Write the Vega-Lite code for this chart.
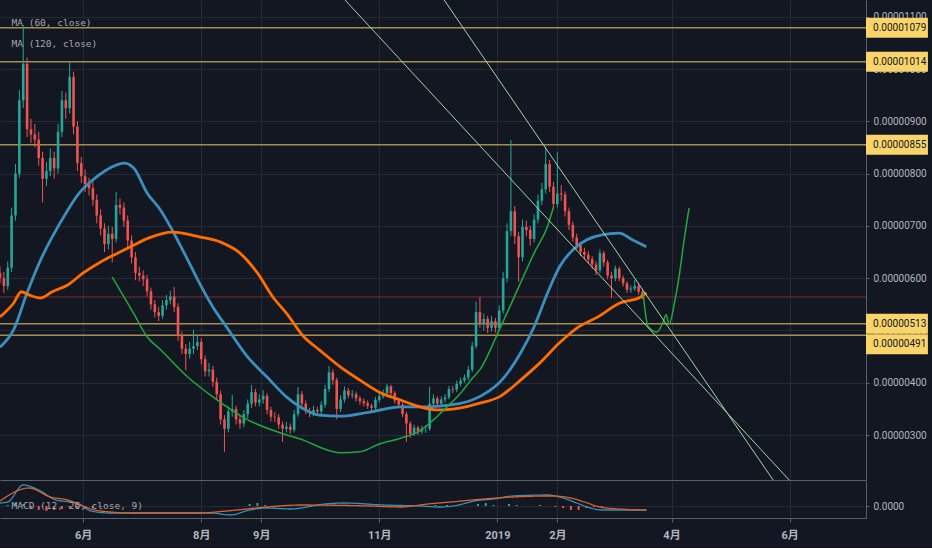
{
"$schema": "https://vega.github.io/schema/vega-lite/v6.json",
"background": "#131722",
"padding": {"left": 0, "top": 0, "right": 4, "bottom": 8},
"spacing": 1,
"bounds": "flush",
"config": {
  "view": {"stroke": null},
  "scale": {"continuousPadding": 0},
  "axis": {"labelFont": "Roboto, 'Noto Sans CJK SC', sans-serif", "labelColor": "#b2b5be", "domainColor": "#5d606b", "tickColor": "#5d606b", "gridColor": "#252a36", "gridWidth": 1}
},
"datasets": {
  "levels": [
    {"v": 1079, "t": "0.00001079"},
    {"v": 1014, "t": "0.00001014"},
    {"v": 855, "t": "0.00000855"},
    {"v": 513, "t": "0.00000513"},
    {"v": 491, "t": "0.00000491"}
  ],
  "trend": [
    {"d": "2018-10-14T07:00:00Z", "v": 1132, "s": "a"},
    {"d": "2019-05-31T19:00:00Z", "v": 214, "s": "a"},
    {"d": "2018-12-04T12:00:00Z", "v": 1132, "s": "b"},
    {"d": "2019-05-23T12:00:00Z", "v": 214, "s": "b"}
  ],
  "curve": [
    {"d": "2018-06-16", "v": 602, "s": "g1"},
    {"d": "2018-06-27", "v": 533, "s": "g1"},
    {"d": "2018-07-04", "v": 488, "s": "g1"},
    {"d": "2018-07-11", "v": 463, "s": "g1"},
    {"d": "2018-07-25", "v": 411, "s": "g1"},
    {"d": "2018-08-07", "v": 373, "s": "g1"},
    {"d": "2018-08-25", "v": 329, "s": "g1"},
    {"d": "2018-09-11", "v": 304, "s": "g1"},
    {"d": "2018-09-25", "v": 287, "s": "g1"},
    {"d": "2018-10-01", "v": 277, "s": "g1"},
    {"d": "2018-10-12", "v": 266, "s": "g1"},
    {"d": "2018-10-22", "v": 268, "s": "g1"},
    {"d": "2018-11-01", "v": 283, "s": "g1"},
    {"d": "2018-11-12", "v": 294, "s": "g1"},
    {"d": "2018-11-22", "v": 308, "s": "g1"},
    {"d": "2018-11-29", "v": 329, "s": "g1"},
    {"d": "2018-12-06", "v": 354, "s": "g1"},
    {"d": "2018-12-13", "v": 380, "s": "g1"},
    {"d": "2018-12-19", "v": 408, "s": "g1"},
    {"d": "2018-12-23", "v": 425, "s": "g1"},
    {"d": "2019-01-02", "v": 501, "s": "g1"},
    {"d": "2019-01-13", "v": 591, "s": "g1"},
    {"d": "2019-01-20", "v": 648, "s": "g1"},
    {"d": "2019-01-27", "v": 700, "s": "g1"},
    {"d": "2019-01-30", "v": 736, "s": "g1"},
    {"d": "2019-03-17T07:00:00Z", "v": 572, "s": "g2"},
    {"d": "2019-03-19T22:00:00Z", "v": 507, "s": "g2"},
    {"d": "2019-03-24T12:00:00Z", "v": 497, "s": "g2"},
    {"d": "2019-03-27T14:00:00Z", "v": 516, "s": "g2"},
    {"d": "2019-03-29T05:00:00Z", "v": 530, "s": "g2"},
    {"d": "2019-03-30T17:00:00Z", "v": 512, "s": "g2"},
    {"d": "2019-04-02T19:00:00Z", "v": 558, "s": "g2"},
    {"d": "2019-04-05T10:00:00Z", "v": 616, "s": "g2"},
    {"d": "2019-04-07T12:00:00Z", "v": 673, "s": "g2"},
    {"d": "2019-04-10T02:00:00Z", "v": 734, "s": "g2"}
  ],
  "ma": [
    {"d": "2018-04-19", "v": 468, "s": "MA (60, close)"},
    {"d": "2018-04-26", "v": 501, "s": "MA (60, close)"},
    {"d": "2018-05-03", "v": 572, "s": "MA (60, close)"},
    {"d": "2018-05-10", "v": 635, "s": "MA (60, close)"},
    {"d": "2018-05-16", "v": 679, "s": "MA (60, close)"},
    {"d": "2018-05-24", "v": 730, "s": "MA (60, close)"},
    {"d": "2018-05-30", "v": 763, "s": "MA (60, close)"},
    {"d": "2018-06-06", "v": 788, "s": "MA (60, close)"},
    {"d": "2018-06-13", "v": 807, "s": "MA (60, close)"},
    {"d": "2018-06-22", "v": 820, "s": "MA (60, close)"},
    {"d": "2018-06-27", "v": 811, "s": "MA (60, close)"},
    {"d": "2018-07-04", "v": 763, "s": "MA (60, close)"},
    {"d": "2018-07-11", "v": 730, "s": "MA (60, close)"},
    {"d": "2018-07-17", "v": 692, "s": "MA (60, close)"},
    {"d": "2018-07-25", "v": 635, "s": "MA (60, close)"},
    {"d": "2018-07-31", "v": 591, "s": "MA (60, close)"},
    {"d": "2018-08-07", "v": 545, "s": "MA (60, close)"},
    {"d": "2018-08-14", "v": 507, "s": "MA (60, close)"},
    {"d": "2018-08-25", "v": 449, "s": "MA (60, close)"},
    {"d": "2018-09-04", "v": 411, "s": "MA (60, close)"},
    {"d": "2018-09-14", "v": 373, "s": "MA (60, close)"},
    {"d": "2018-09-21", "v": 354, "s": "MA (60, close)"},
    {"d": "2018-10-01", "v": 338, "s": "MA (60, close)"},
    {"d": "2018-10-12", "v": 336, "s": "MA (60, close)"},
    {"d": "2018-10-27", "v": 344, "s": "MA (60, close)"},
    {"d": "2018-11-12", "v": 354, "s": "MA (60, close)"},
    {"d": "2018-11-26", "v": 354, "s": "MA (60, close)"},
    {"d": "2018-12-09", "v": 358, "s": "MA (60, close)"},
    {"d": "2018-12-19", "v": 367, "s": "MA (60, close)"},
    {"d": "2018-12-28", "v": 385, "s": "MA (60, close)"},
    {"d": "2019-01-02", "v": 400, "s": "MA (60, close)"},
    {"d": "2019-01-13", "v": 457, "s": "MA (60, close)"},
    {"d": "2019-01-20", "v": 507, "s": "MA (60, close)"},
    {"d": "2019-01-27", "v": 572, "s": "MA (60, close)"},
    {"d": "2019-02-02", "v": 621, "s": "MA (60, close)"},
    {"d": "2019-02-09", "v": 654, "s": "MA (60, close)"},
    {"d": "2019-02-16", "v": 673, "s": "MA (60, close)"},
    {"d": "2019-02-24", "v": 683, "s": "MA (60, close)"},
    {"d": "2019-03-05", "v": 686, "s": "MA (60, close)"},
    {"d": "2019-03-12", "v": 673, "s": "MA (60, close)"},
    {"d": "2019-03-19", "v": 660, "s": "MA (60, close)"},
    {"d": "2018-04-19", "v": 526, "s": "MA (120, close)"},
    {"d": "2018-04-26", "v": 552, "s": "MA (120, close)"},
    {"d": "2018-04-30", "v": 574, "s": "MA (120, close)"},
    {"d": "2018-05-04", "v": 568, "s": "MA (120, close)"},
    {"d": "2018-05-10", "v": 562, "s": "MA (120, close)"},
    {"d": "2018-05-16", "v": 574, "s": "MA (120, close)"},
    {"d": "2018-05-24", "v": 587, "s": "MA (120, close)"},
    {"d": "2018-06-01", "v": 610, "s": "MA (120, close)"},
    {"d": "2018-06-10", "v": 631, "s": "MA (120, close)"},
    {"d": "2018-06-19", "v": 648, "s": "MA (120, close)"},
    {"d": "2018-06-27", "v": 663, "s": "MA (120, close)"},
    {"d": "2018-07-05", "v": 677, "s": "MA (120, close)"},
    {"d": "2018-07-17", "v": 688, "s": "MA (120, close)"},
    {"d": "2018-07-31", "v": 679, "s": "MA (120, close)"},
    {"d": "2018-08-11", "v": 669, "s": "MA (120, close)"},
    {"d": "2018-08-21", "v": 648, "s": "MA (120, close)"},
    {"d": "2018-08-30", "v": 610, "s": "MA (120, close)"},
    {"d": "2018-09-07", "v": 564, "s": "MA (120, close)"},
    {"d": "2018-09-14", "v": 533, "s": "MA (120, close)"},
    {"d": "2018-09-23", "v": 488, "s": "MA (120, close)"},
    {"d": "2018-10-01", "v": 463, "s": "MA (120, close)"},
    {"d": "2018-10-12", "v": 430, "s": "MA (120, close)"},
    {"d": "2018-10-22", "v": 405, "s": "MA (120, close)"},
    {"d": "2018-11-01", "v": 382, "s": "MA (120, close)"},
    {"d": "2018-11-12", "v": 367, "s": "MA (120, close)"},
    {"d": "2018-11-22", "v": 354, "s": "MA (120, close)"},
    {"d": "2018-12-02", "v": 348, "s": "MA (120, close)"},
    {"d": "2018-12-13", "v": 352, "s": "MA (120, close)"},
    {"d": "2018-12-23", "v": 361, "s": "MA (120, close)"},
    {"d": "2019-01-02", "v": 373, "s": "MA (120, close)"},
    {"d": "2019-01-13", "v": 405, "s": "MA (120, close)"},
    {"d": "2019-01-23", "v": 438, "s": "MA (120, close)"},
    {"d": "2019-02-02", "v": 476, "s": "MA (120, close)"},
    {"d": "2019-02-12", "v": 507, "s": "MA (120, close)"},
    {"d": "2019-02-22", "v": 526, "s": "MA (120, close)"},
    {"d": "2019-03-05", "v": 552, "s": "MA (120, close)"},
    {"d": "2019-03-16", "v": 564, "s": "MA (120, close)"},
    {"d": "2019-03-19", "v": 572, "s": "MA (120, close)"}
  ],
  "macd": [
    {"d": "2018-04-19", "v": 3, "s": "macd"},
    {"d": "2018-04-23", "v": 4, "s": "macd"},
    {"d": "2018-05-01", "v": 21, "s": "macd"},
    {"d": "2018-05-09", "v": 16, "s": "macd"},
    {"d": "2018-05-18", "v": 6, "s": "macd"},
    {"d": "2018-05-29", "v": 3, "s": "macd"},
    {"d": "2018-06-05", "v": -5, "s": "macd"},
    {"d": "2018-06-15", "v": -7, "s": "macd"},
    {"d": "2018-06-27", "v": -7, "s": "macd"},
    {"d": "2018-07-17", "v": -7, "s": "macd"},
    {"d": "2018-08-06", "v": -7, "s": "macd"},
    {"d": "2018-08-16", "v": -9, "s": "macd"},
    {"d": "2018-08-26", "v": -4, "s": "macd"},
    {"d": "2018-09-04", "v": -2, "s": "macd"},
    {"d": "2018-09-16", "v": -3, "s": "macd"},
    {"d": "2018-10-04", "v": 2, "s": "macd"},
    {"d": "2018-10-14", "v": 3, "s": "macd"},
    {"d": "2018-11-03", "v": 1, "s": "macd"},
    {"d": "2018-11-22", "v": 0, "s": "macd"},
    {"d": "2018-12-02", "v": -1, "s": "macd"},
    {"d": "2018-12-12", "v": 1, "s": "macd"},
    {"d": "2018-12-20", "v": 5, "s": "macd"},
    {"d": "2018-12-30", "v": 7, "s": "macd"},
    {"d": "2019-01-09", "v": 10, "s": "macd"},
    {"d": "2019-01-27", "v": 11, "s": "macd"},
    {"d": "2019-02-04", "v": 8, "s": "macd"},
    {"d": "2019-02-11", "v": 3, "s": "macd"},
    {"d": "2019-02-18", "v": -2, "s": "macd"},
    {"d": "2019-02-24", "v": -4, "s": "macd"},
    {"d": "2019-03-19", "v": -4, "s": "macd"},
    {"d": "2018-04-19", "v": 5, "s": "signal"},
    {"d": "2018-05-04", "v": 18, "s": "signal"},
    {"d": "2018-05-15", "v": 9, "s": "signal"},
    {"d": "2018-05-24", "v": 6, "s": "signal"},
    {"d": "2018-06-02", "v": -1, "s": "signal"},
    {"d": "2018-06-10", "v": -5, "s": "signal"},
    {"d": "2018-06-27", "v": -7, "s": "signal"},
    {"d": "2018-07-31", "v": -7, "s": "signal"},
    {"d": "2018-08-14", "v": -5, "s": "signal"},
    {"d": "2018-09-04", "v": -1, "s": "signal"},
    {"d": "2018-09-21", "v": 1, "s": "signal"},
    {"d": "2018-10-27", "v": 0, "s": "signal"},
    {"d": "2018-11-12", "v": -1, "s": "signal"},
    {"d": "2018-11-26", "v": 2, "s": "signal"},
    {"d": "2018-12-08", "v": 4, "s": "signal"},
    {"d": "2018-12-25", "v": 7, "s": "signal"},
    {"d": "2019-01-09", "v": 9, "s": "signal"},
    {"d": "2019-01-29", "v": 10, "s": "signal"},
    {"d": "2019-02-08", "v": 8, "s": "signal"},
    {"d": "2019-02-15", "v": 4, "s": "signal"},
    {"d": "2019-02-23", "v": -1, "s": "signal"},
    {"d": "2019-03-05", "v": -3, "s": "signal"},
    {"d": "2019-03-19", "v": -4, "s": "signal"}
  ],
  "hist": [
    {"d": "2018-04-23", "h": 1}, {"d": "2018-04-27", "h": 3}, {"d": "2018-05-01", "h": 2},
    {"d": "2018-05-05", "h": -2}, {"d": "2018-05-09", "h": -4}, {"d": "2018-05-13", "h": -5},
    {"d": "2018-05-17", "h": -4}, {"d": "2018-05-21", "h": -3}, {"d": "2018-05-25", "h": -2},
    {"d": "2018-05-29", "h": -2}, {"d": "2018-06-02", "h": -3}, {"d": "2018-06-06", "h": -2},
    {"d": "2018-06-10", "h": -1}, {"d": "2018-08-26", "h": 2}, {"d": "2018-08-30", "h": 3},
    {"d": "2018-09-03", "h": 1}, {"d": "2018-09-27", "h": 1}, {"d": "2018-10-05", "h": 1},
    {"d": "2018-11-12", "h": -1}, {"d": "2018-11-30", "h": 1}, {"d": "2018-12-06", "h": 1},
    {"d": "2018-12-22", "h": 2}, {"d": "2018-12-26", "h": 3}, {"d": "2018-12-30", "h": 1},
    {"d": "2019-01-07", "h": 2}, {"d": "2019-01-11", "h": 1}, {"d": "2019-01-23", "h": 1},
    {"d": "2019-01-31", "h": -1}, {"d": "2019-02-04", "h": -2}, {"d": "2019-02-08", "h": -4},
    {"d": "2019-02-12", "h": -4}, {"d": "2019-02-16", "h": -2}, {"d": "2019-02-20", "h": -1},
    {"d": "2019-02-24", "h": -1}
  ],
  "candles": [
    {"d":"2018-04-19","o":610,"h":622,"l":590,"c":600},
    {"d":"2018-04-21","o":600,"h":612,"l":572,"c":585},
    {"d":"2018-04-23","o":585,"h":632,"l":578,"c":620},
    {"d":"2018-04-25","o":620,"h":735,"l":612,"c":720},
    {"d":"2018-04-27","o":720,"h":818,"l":710,"c":800},
    {"d":"2018-04-29","o":800,"h":960,"l":792,"c":940},
    {"d":"2018-05-01","o":940,"h":1084,"l":925,"c":1010},
    {"d":"2018-05-03","o":1010,"h":1022,"l":870,"c":885},
    {"d":"2018-05-05","o":885,"h":905,"l":858,"c":875},
    {"d":"2018-05-07","o":875,"h":895,"l":850,"c":865},
    {"d":"2018-05-09","o":865,"h":880,"l":815,"c":830},
    {"d":"2018-05-11","o":830,"h":842,"l":745,"c":790},
    {"d":"2018-05-13","o":790,"h":822,"l":776,"c":805},
    {"d":"2018-05-15","o":805,"h":848,"l":795,"c":830},
    {"d":"2018-05-17","o":830,"h":842,"l":790,"c":810},
    {"d":"2018-05-19","o":810,"h":895,"l":800,"c":880},
    {"d":"2018-05-21","o":880,"h":958,"l":870,"c":940},
    {"d":"2018-05-23","o":940,"h":955,"l":905,"c":925},
    {"d":"2018-05-25","o":925,"h":1013,"l":915,"c":985},
    {"d":"2018-05-27","o":985,"h":995,"l":875,"c":890},
    {"d":"2018-05-29","o":890,"h":900,"l":805,"c":820},
    {"d":"2018-05-31","o":820,"h":832,"l":782,"c":795},
    {"d":"2018-06-02","o":795,"h":808,"l":765,"c":780},
    {"d":"2018-06-04","o":780,"h":792,"l":758,"c":772},
    {"d":"2018-06-06","o":772,"h":785,"l":738,"c":750},
    {"d":"2018-06-08","o":750,"h":760,"l":705,"c":720},
    {"d":"2018-06-10","o":720,"h":732,"l":682,"c":695},
    {"d":"2018-06-12","o":695,"h":705,"l":650,"c":665},
    {"d":"2018-06-14","o":665,"h":700,"l":655,"c":685},
    {"d":"2018-06-16","o":685,"h":698,"l":630,"c":675},
    {"d":"2018-06-18","o":675,"h":765,"l":668,"c":740},
    {"d":"2018-06-20","o":740,"h":752,"l":722,"c":735},
    {"d":"2018-06-22","o":735,"h":745,"l":698,"c":710},
    {"d":"2018-06-24","o":710,"h":720,"l":660,"c":672},
    {"d":"2018-06-26","o":672,"h":682,"l":628,"c":640},
    {"d":"2018-06-28","o":640,"h":650,"l":596,"c":610},
    {"d":"2018-06-30","o":610,"h":622,"l":594,"c":605},
    {"d":"2018-07-02","o":605,"h":615,"l":585,"c":598},
    {"d":"2018-07-04","o":598,"h":606,"l":565,"c":575},
    {"d":"2018-07-06","o":575,"h":582,"l":540,"c":550},
    {"d":"2018-07-08","o":550,"h":558,"l":525,"c":535},
    {"d":"2018-07-10","o":535,"h":545,"l":518,"c":528},
    {"d":"2018-07-12","o":528,"h":558,"l":522,"c":548},
    {"d":"2018-07-14","o":548,"h":568,"l":540,"c":558},
    {"d":"2018-07-16","o":558,"h":576,"l":550,"c":565},
    {"d":"2018-07-18","o":565,"h":583,"l":535,"c":545},
    {"d":"2018-07-20","o":545,"h":552,"l":480,"c":490},
    {"d":"2018-07-22","o":490,"h":498,"l":455,"c":465},
    {"d":"2018-07-24","o":465,"h":474,"l":424,"c":455},
    {"d":"2018-07-26","o":455,"h":478,"l":446,"c":465},
    {"d":"2018-07-28","o":465,"h":501,"l":455,"c":470},
    {"d":"2018-07-30","o":470,"h":490,"l":462,"c":478},
    {"d":"2018-08-01","o":478,"h":485,"l":435,"c":445},
    {"d":"2018-08-03","o":445,"h":452,"l":412,"c":422},
    {"d":"2018-08-05","o":422,"h":438,"l":412,"c":425},
    {"d":"2018-08-07","o":425,"h":432,"l":392,"c":402},
    {"d":"2018-08-09","o":402,"h":410,"l":368,"c":378},
    {"d":"2018-08-11","o":378,"h":385,"l":320,"c":330},
    {"d":"2018-08-13","o":330,"h":338,"l":268,"c":312},
    {"d":"2018-08-15","o":312,"h":355,"l":305,"c":345},
    {"d":"2018-08-17","o":345,"h":377,"l":335,"c":350},
    {"d":"2018-08-19","o":350,"h":356,"l":320,"c":330},
    {"d":"2018-08-21","o":330,"h":338,"l":312,"c":322},
    {"d":"2018-08-23","o":322,"h":348,"l":315,"c":340},
    {"d":"2018-08-25","o":340,"h":368,"l":332,"c":360},
    {"d":"2018-08-27","o":360,"h":396,"l":352,"c":382},
    {"d":"2018-08-29","o":382,"h":388,"l":355,"c":362},
    {"d":"2018-08-31","o":362,"h":378,"l":355,"c":368},
    {"d":"2018-09-02","o":368,"h":386,"l":360,"c":375},
    {"d":"2018-09-04","o":375,"h":380,"l":340,"c":348},
    {"d":"2018-09-06","o":348,"h":354,"l":326,"c":335},
    {"d":"2018-09-08","o":335,"h":344,"l":325,"c":334},
    {"d":"2018-09-10","o":334,"h":340,"l":312,"c":320},
    {"d":"2018-09-12","o":320,"h":326,"l":287,"c":312},
    {"d":"2018-09-14","o":312,"h":325,"l":305,"c":316},
    {"d":"2018-09-16","o":316,"h":322,"l":302,"c":310},
    {"d":"2018-09-18","o":310,"h":348,"l":305,"c":340},
    {"d":"2018-09-20","o":340,"h":392,"l":335,"c":378},
    {"d":"2018-09-22","o":378,"h":384,"l":352,"c":360},
    {"d":"2018-09-24","o":360,"h":366,"l":340,"c":346},
    {"d":"2018-09-26","o":346,"h":352,"l":334,"c":342},
    {"d":"2018-09-28","o":342,"h":356,"l":336,"c":348},
    {"d":"2018-09-30","o":348,"h":354,"l":338,"c":345},
    {"d":"2018-10-02","o":345,"h":365,"l":340,"c":358},
    {"d":"2018-10-04","o":358,"h":396,"l":352,"c":388},
    {"d":"2018-10-06","o":388,"h":432,"l":382,"c":420},
    {"d":"2018-10-08","o":420,"h":426,"l":396,"c":405},
    {"d":"2018-10-10","o":405,"h":410,"l":330,"c":350},
    {"d":"2018-10-12","o":350,"h":376,"l":344,"c":368},
    {"d":"2018-10-14","o":368,"h":393,"l":362,"c":385},
    {"d":"2018-10-16","o":385,"h":390,"l":370,"c":376},
    {"d":"2018-10-18","o":376,"h":386,"l":370,"c":378},
    {"d":"2018-10-20","o":378,"h":383,"l":364,"c":370},
    {"d":"2018-10-22","o":370,"h":375,"l":358,"c":365},
    {"d":"2018-10-24","o":365,"h":370,"l":355,"c":361},
    {"d":"2018-10-26","o":361,"h":366,"l":350,"c":356},
    {"d":"2018-10-28","o":356,"h":360,"l":346,"c":352},
    {"d":"2018-10-30","o":352,"h":373,"l":348,"c":367},
    {"d":"2018-11-01","o":367,"h":380,"l":362,"c":374},
    {"d":"2018-11-03","o":374,"h":387,"l":370,"c":380},
    {"d":"2018-11-05","o":380,"h":398,"l":376,"c":393},
    {"d":"2018-11-07","o":393,"h":396,"l":374,"c":380},
    {"d":"2018-11-09","o":380,"h":384,"l":360,"c":366},
    {"d":"2018-11-11","o":366,"h":370,"l":352,"c":358},
    {"d":"2018-11-13","o":358,"h":362,"l":334,"c":340},
    {"d":"2018-11-15","o":340,"h":345,"l":287,"c":322},
    {"d":"2018-11-17","o":322,"h":326,"l":295,"c":302},
    {"d":"2018-11-19","o":302,"h":320,"l":298,"c":314},
    {"d":"2018-11-21","o":314,"h":318,"l":300,"c":307},
    {"d":"2018-11-23","o":307,"h":318,"l":302,"c":312},
    {"d":"2018-11-25","o":312,"h":319,"l":304,"c":312},
    {"d":"2018-11-27","o":312,"h":392,"l":308,"c":360},
    {"d":"2018-11-29","o":360,"h":378,"l":354,"c":370},
    {"d":"2018-12-01","o":370,"h":374,"l":354,"c":360},
    {"d":"2018-12-03","o":360,"h":374,"l":355,"c":368},
    {"d":"2018-12-05","o":368,"h":378,"l":362,"c":372},
    {"d":"2018-12-07","o":372,"h":394,"l":368,"c":388},
    {"d":"2018-12-09","o":388,"h":394,"l":380,"c":387},
    {"d":"2018-12-11","o":387,"h":404,"l":382,"c":398},
    {"d":"2018-12-13","o":398,"h":410,"l":393,"c":404},
    {"d":"2018-12-15","o":404,"h":416,"l":400,"c":410},
    {"d":"2018-12-17","o":410,"h":432,"l":405,"c":425},
    {"d":"2018-12-19","o":425,"h":478,"l":420,"c":470},
    {"d":"2018-12-21","o":470,"h":555,"l":465,"c":535},
    {"d":"2018-12-23","o":535,"h":564,"l":505,"c":512},
    {"d":"2018-12-25","o":512,"h":532,"l":500,"c":522},
    {"d":"2018-12-27","o":522,"h":528,"l":495,"c":505},
    {"d":"2018-12-29","o":505,"h":528,"l":498,"c":518},
    {"d":"2018-12-31","o":518,"h":524,"l":496,"c":505},
    {"d":"2019-01-02","o":505,"h":548,"l":500,"c":538},
    {"d":"2019-01-04","o":538,"h":612,"l":532,"c":600},
    {"d":"2019-01-06","o":600,"h":705,"l":592,"c":690},
    {"d":"2019-01-08","o":690,"h":864,"l":680,"c":728},
    {"d":"2019-01-10","o":728,"h":738,"l":665,"c":680},
    {"d":"2019-01-12","o":680,"h":688,"l":593,"c":640},
    {"d":"2019-01-14","o":640,"h":712,"l":632,"c":698},
    {"d":"2019-01-16","o":698,"h":710,"l":680,"c":692},
    {"d":"2019-01-18","o":692,"h":700,"l":662,"c":675},
    {"d":"2019-01-20","o":675,"h":722,"l":668,"c":712},
    {"d":"2019-01-22","o":712,"h":760,"l":705,"c":748},
    {"d":"2019-01-24","o":748,"h":782,"l":740,"c":770},
    {"d":"2019-01-26","o":770,"h":851,"l":762,"c":818},
    {"d":"2019-01-28","o":818,"h":826,"l":765,"c":775},
    {"d":"2019-01-30","o":775,"h":784,"l":732,"c":742},
    {"d":"2019-02-01","o":742,"h":841,"l":735,"c":762},
    {"d":"2019-02-03","o":762,"h":778,"l":748,"c":760},
    {"d":"2019-02-05","o":760,"h":766,"l":718,"c":728},
    {"d":"2019-02-07","o":728,"h":735,"l":692,"c":702},
    {"d":"2019-02-09","o":702,"h":708,"l":670,"c":678},
    {"d":"2019-02-11","o":678,"h":685,"l":655,"c":663},
    {"d":"2019-02-13","o":663,"h":670,"l":642,"c":650},
    {"d":"2019-02-15","o":650,"h":658,"l":636,"c":645},
    {"d":"2019-02-17","o":645,"h":652,"l":628,"c":636},
    {"d":"2019-02-19","o":636,"h":642,"l":618,"c":626},
    {"d":"2019-02-21","o":626,"h":632,"l":606,"c":615},
    {"d":"2019-02-23","o":615,"h":655,"l":610,"c":648},
    {"d":"2019-02-25","o":648,"h":652,"l":622,"c":630},
    {"d":"2019-02-27","o":630,"h":635,"l":598,"c":605},
    {"d":"2019-03-01","o":605,"h":612,"l":562,"c":600},
    {"d":"2019-03-03","o":600,"h":624,"l":594,"c":618},
    {"d":"2019-03-05","o":618,"h":622,"l":594,"c":600},
    {"d":"2019-03-07","o":600,"h":605,"l":584,"c":590},
    {"d":"2019-03-09","o":590,"h":594,"l":572,"c":578},
    {"d":"2019-03-11","o":578,"h":586,"l":572,"c":580},
    {"d":"2019-03-13","o":580,"h":597,"l":576,"c":585},
    {"d":"2019-03-15","o":585,"h":590,"l":568,"c":574},
    {"d":"2019-03-17","o":574,"h":580,"l":560,"c":565}
  ]
},
"vconcat": [
  {
    "width": 866,
    "height": 480,
    "layer": [
      {
        "data": {"name": "levels"},
        "mark": {"type": "rule", "color": "#a48e52", "strokeWidth": 1.5, "clip": true},
        "encoding": {
          "y": {"field": "v", "type": "quantitative", "title": null,
            "scale": {"domain": [214, 1132], "zero": false, "nice": false, "padding": 0},
            "axis": {"orient": "right", "values": [300, 400, 500, 600, 700, 800, 900, 1000, 1100],
              "labelExpr": "format(datum.value / 1e8, '.8f')", "tickSize": 3, "labelPadding": 4,
              "labelFontSize": 10, "grid": true}}
        }
      },
      {
        "data": {"values": [{"v": 564}]},
        "mark": {"type": "rule", "color": "#7d2b2e", "strokeWidth": 1, "clip": true},
        "encoding": {"y": {"field": "v", "type": "quantitative", "title": null}}
      },
      {
        "data": {"name": "candles"},
        "mark": {"type": "rule", "strokeWidth": 1, "clip": true},
        "encoding": {
          "x": {"field": "d", "type": "temporal", "title": null,
            "scale": {"type": "utc", "padding": 0, "domain": [{"year": 2018, "month": 4, "date": 19, "utc": true}, {"year": 2019, "month": 7, "date": 10, "hours": 12, "utc": true}]},
            "axis": {"values": [
              {"year": 2018, "month": 6, "date": 1, "utc": true},
              {"year": 2018, "month": 8, "date": 1, "utc": true},
              {"year": 2018, "month": 9, "date": 1, "utc": true},
              {"year": 2018, "month": 11, "date": 1, "utc": true},
              {"year": 2019, "month": 1, "date": 1, "utc": true},
              {"year": 2019, "month": 2, "date": 1, "utc": true},
              {"year": 2019, "month": 4, "date": 1, "utc": true},
              {"year": 2019, "month": 6, "date": 1, "utc": true}],
              "labels": false, "ticks": false, "grid": true}},
          "y": {"field": "l", "type": "quantitative", "title": null},
          "y2": {"field": "h"},
          "color": {"condition": {"test": "datum.c >= datum.o", "value": "#26a69a"}, "value": "#ef5350"}
        }
      },
      {
        "data": {"name": "candles"},
        "mark": {"type": "bar", "width": 2.6, "clip": true},
        "encoding": {
          "x": {"field": "d", "type": "temporal", "title": null},
          "y": {"field": "o", "type": "quantitative", "title": null},
          "y2": {"field": "c"},
          "color": {"condition": {"test": "datum.c >= datum.o", "value": "#26a69a"}, "value": "#ef5350"}
        }
      },
      {
        "data": {"name": "ma"},
        "mark": {"type": "line", "strokeWidth": 2.8, "interpolate": "monotone", "clip": true, "strokeJoin": "round"},
        "encoding": {
          "x": {"field": "d", "type": "temporal", "title": null},
          "y": {"field": "v", "type": "quantitative", "title": null},
          "color": {"field": "s", "type": "nominal",
            "scale": {"domain": ["MA (60, close)", "MA (120, close)"], "range": ["#3b8fbd", "#ff6d00"]},
            "legend": {"orient": "none", "legendX": 4, "legendY": 18, "title": null,
              "labelFont": "DejaVu Sans Mono", "labelFontSize": 9.5, "labelColor": "#a3a6af",
              "symbolSize": 0, "symbolStrokeWidth": 0, "symbolOpacity": 0,
              "padding": 0, "labelOffset": -2, "rowPadding": 10}}
        }
      },
      {
        "data": {"name": "curve"},
        "mark": {"type": "line", "color": "#1fa83d", "strokeWidth": 1.5, "interpolate": "monotone", "clip": true},
        "encoding": {
          "x": {"field": "d", "type": "temporal", "title": null},
          "y": {"field": "v", "type": "quantitative", "title": null},
          "detail": {"field": "s"}
        }
      },
      {
        "data": {"name": "trend"},
        "mark": {"type": "line", "color": "#a5d6a7", "strokeWidth": 1, "clip": true},
        "encoding": {
          "x": {"field": "d", "type": "temporal", "title": null},
          "y": {"field": "v", "type": "quantitative", "title": null},
          "detail": {"field": "s"}
        }
      },
      {
        "data": {"name": "levels"},
        "transform": [{"filter": "datum.v != 491"}],
        "mark": {"type": "bar", "color": "#f9d46a", "height": 20, "orient": "horizontal"},
        "encoding": {
          "x": {"datum": {"year": 2019, "month": 7, "date": 10, "hours": 12, "utc": true}, "type": "temporal"},
          "x2": {"datum": {"year": 2019, "month": 8, "date": 11, "hours": 12, "utc": true}},
          "y": {"field": "v", "type": "quantitative", "title": null}
        }
      },
      {
        "data": {"name": "levels"},
        "transform": [{"filter": "datum.v == 491"}],
        "mark": {"type": "bar", "color": "#f9d46a", "height": 20, "orient": "horizontal", "yOffset": 9},
        "encoding": {
          "x": {"datum": {"year": 2019, "month": 7, "date": 10, "hours": 12, "utc": true}, "type": "temporal"},
          "x2": {"datum": {"year": 2019, "month": 8, "date": 11, "hours": 12, "utc": true}},
          "y": {"field": "v", "type": "quantitative", "title": null}
        }
      },
      {
        "data": {"name": "levels"},
        "transform": [{"filter": "datum.v != 491"}],
        "mark": {"type": "text", "align": "left", "baseline": "middle", "color": "#131722", "fontSize": 10, "font": "Roboto"},
        "encoding": {
          "x": {"datum": {"year": 2019, "month": 7, "date": 14, "hours": 4, "utc": true}, "type": "temporal"},
          "y": {"field": "v", "type": "quantitative", "title": null},
          "text": {"field": "t"}
        }
      },
      {
        "data": {"name": "levels"},
        "transform": [{"filter": "datum.v == 491"}],
        "mark": {"type": "text", "align": "left", "baseline": "middle", "color": "#131722", "fontSize": 10, "font": "Roboto", "dy": 9},
        "encoding": {
          "x": {"datum": {"year": 2019, "month": 7, "date": 14, "hours": 4, "utc": true}, "type": "temporal"},
          "y": {"field": "v", "type": "quantitative", "title": null},
          "text": {"field": "t"}
        }
      }
    ]
  },
  {
    "width": 866,
    "height": 37,
    "layer": [
      {
        "data": {"name": "hist"},
        "mark": {"type": "bar", "width": 2, "clip": true},
        "encoding": {
          "x": {"field": "d", "type": "temporal", "title": null,
            "scale": {"type": "utc", "padding": 0, "domain": [{"year": 2018, "month": 4, "date": 19, "utc": true}, {"year": 2019, "month": 7, "date": 10, "hours": 12, "utc": true}]},
            "axis": {"values": [
              {"year": 2018, "month": 6, "date": 1, "utc": true},
              {"year": 2018, "month": 8, "date": 1, "utc": true},
              {"year": 2018, "month": 9, "date": 1, "utc": true},
              {"year": 2018, "month": 11, "date": 1, "utc": true},
              {"year": 2019, "month": 1, "date": 1, "utc": true},
              {"year": 2019, "month": 2, "date": 1, "utc": true},
              {"year": 2019, "month": 4, "date": 1, "utc": true},
              {"year": 2019, "month": 6, "date": 1, "utc": true}],
              "labelExpr": "utcmonth(datum.value) == 0 ? utcFormat(datum.value, '%Y') : (utcmonth(datum.value) + 1) + '月'",
              "tickSize": 4, "labelPadding": 7, "labelFontSize": 11, "labelFontWeight": "bold", "grid": true}},
          "y": {"field": "h", "type": "quantitative", "title": null,
            "scale": {"domain": [-12, 25], "zero": false, "nice": false, "padding": 0},
            "axis": {"orient": "right", "values": [0], "labelExpr": "'0.0000'", "tickSize": 3, "labelPadding": 4, "labelFontSize": 10, "grid": true}},
          "y2": {"datum": 0},
          "color": {"condition": {"test": "datum.h >= 0", "value": "#26a69a"}, "value": "#ef5350"}
        }
      },
      {
        "data": {"name": "macd"},
        "mark": {"type": "line", "strokeWidth": 1.3, "interpolate": "monotone", "clip": true, "strokeJoin": "round"},
        "encoding": {
          "x": {"field": "d", "type": "temporal", "title": null},
          "y": {"field": "v", "type": "quantitative", "title": null},
          "detail": {"field": "s"},
          "color": {"condition": {"test": "datum.s == 'signal'", "value": "#e0602a"}, "value": "#2f95bb"},
          "strokeDash": {"datum": "MACD (12, 26, close, 9)", "type": "nominal",
            "scale": {"range": [[1, 0]]},
            "legend": {"orient": "none", "legendX": 4, "legendY": 501, "title": null,
              "labelFont": "DejaVu Sans Mono", "labelFontSize": 9.5, "labelColor": "#a3a6af",
              "symbolSize": 0, "symbolStrokeWidth": 0, "symbolOpacity": 0,
              "padding": 0, "labelOffset": -2}}
        }
      }
    ]
  }
]
}
